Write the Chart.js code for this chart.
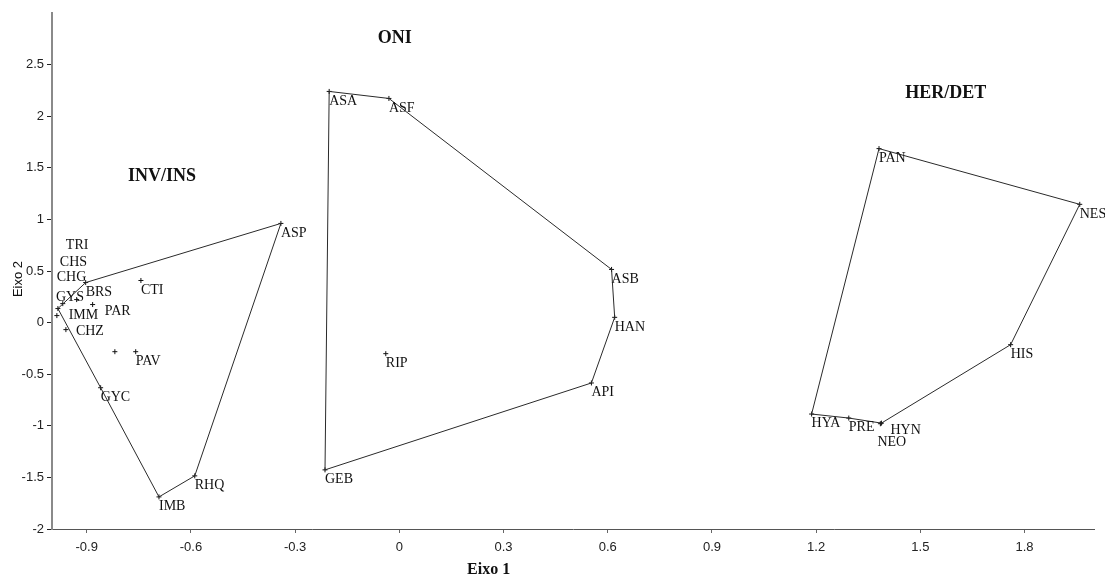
<!DOCTYPE html>
<html>
<head>
<meta charset="utf-8">
<script src="https://cdn.jsdelivr.net/npm/chart.js@4/dist/chart.umd.min.js"></script>
<style>
  html, body { margin: 0; padding: 0; background: #fff; }
  canvas { display: block; }
</style>
</head>
<body>
<canvas id="ord" width="1105" height="577"></canvas>
<script>
// Tick positions on both ordination axes
const xTicks = [-0.9, -0.6, -0.3, 0, 0.3, 0.6, 0.9, 1.2, 1.5, 1.8];
const yTicks = [-2, -1.5, -1, -0.5, 0, 0.5, 1, 1.5, 2, 2.5];

// Invertivores / insectivores
const invCodes = ['GYS', 'BRS', 'IMM', 'PAR', 'CHZ', 'TRI', 'PAV', 'CTI', 'GYC', 'IMB', 'RHQ', 'ASP', 'CHS', 'CHG'];
const invAxis1 = [-0.983, -0.903, -0.929, -0.883, -0.960, -0.819, -0.759, -0.744, -0.860, -0.692, -0.589, -0.341, -0.986, -0.969];
const invAxis2 = [0.136, 0.388, 0.223, 0.175, -0.068, -0.282, -0.282, 0.408, -0.631, -1.689, -1.485, 0.961, 0.068, 0.184];
const invHull = ['GYS', 'GYC', 'IMB', 'RHQ', 'ASP', 'BRS', 'GYS'];

// Omnivores
const oniCodes = ['ASA', 'ASF', 'ASB', 'HAN', 'API', 'GEB', 'RIP'];
const oniAxis1 = [-0.202, -0.030, 0.611, 0.620, 0.553, -0.214, -0.039];
const oniAxis2 = [2.240, 2.172, 0.515, 0.051, -0.585, -1.427, -0.301];
const oniHull = ['ASA', 'ASF', 'ASB', 'HAN', 'API', 'GEB', 'ASA'];

// Herbivores / detritivores
const herCodes = ['PAN', 'NES', 'HIS', 'HYN', 'NEO', 'PRE', 'HYA'];
const herAxis1 = [1.381, 1.959, 1.760, 1.388, 1.385, 1.294, 1.187];
const herAxis2 = [1.686, 1.146, -0.214, -0.974, -0.980, -0.925, -0.886];
const herHull = ['PAN', 'NES', 'HIS', 'HYN', 'PRE', 'HYA', 'PAN'];

// Group captions
const groupNames = ['INV/INS', 'ONI', 'HER/DET'];

// Layout of text elements (pixels / data anchors), kept apart from the data
const captionAnchors = { 'INV/INS': [-0.683, 1.415], 'ONI': [-0.013, 2.750], 'HER/DET': [1.573, 2.219] };
const labelNudge = {
  TRI: [-49, -116], CHS: [3, -63], CHG: [-6, -36], GYS: [-2, -21],
  IMM: [-8, 6], PAR: [12, -3], CHZ: [10, -8],
  HYN: [9, -2], NEO: [-3, 9]
};

function pts(codes, a1, a2) {
  return codes.map((c, i) => ({ x: a1[i], y: a2[i], code: c }));
}
function hull(order, codes, a1, a2) {
  return order.map(c => { const i = codes.indexOf(c); return { x: a1[i], y: a2[i] }; });
}

const groups = [
  [invCodes, invAxis1, invAxis2, invHull],
  [oniCodes, oniAxis1, oniAxis2, oniHull],
  [herCodes, herAxis1, herAxis2, herHull]
];

const datasets = [];
groups.forEach(([codes, a1, a2, order]) => {
  datasets.push({
    type: 'scatter',
    data: hull(order, codes, a1, a2),
    showLine: true,
    borderColor: '#2a2a2a',
    borderWidth: 1,
    pointRadius: 0,
    tension: 0,
    fill: false
  });
  datasets.push({
    type: 'scatter',
    data: pts(codes, a1, a2),
    pointStyle: 'cross',
    pointRadius: 2.5,
    borderColor: '#111',
    borderWidth: 1,
    isSpecies: true
  });
});

const textPlugin = {
  id: 'ordText',
  afterDatasetsDraw(chart) {
    const ctx = chart.ctx;
    const xs = chart.scales.x, ys = chart.scales.y;
    ctx.save();
    // species codes next to each point
    ctx.font = '14px "Liberation Serif", "Times New Roman", serif';
    ctx.fillStyle = '#111';
    ctx.textAlign = 'left';
    ctx.textBaseline = 'middle';
    chart.data.datasets.forEach((ds, di) => {
      if (!ds.isSpecies) return;
      const meta = chart.getDatasetMeta(di);
      meta.data.forEach((el, i) => {
        const code = ds.data[i].code;
        const n = labelNudge[code] || [0, 0];
        ctx.fillText(code, el.x + n[0], el.y + 9.5 + n[1]);
      });
    });
    // group captions
    ctx.font = 'bold 18px "Liberation Serif", "Times New Roman", serif';
    ctx.textAlign = 'center';
    groupNames.forEach(g => {
      const a = captionAnchors[g];
      ctx.fillText(g, xs.getPixelForValue(a[0]), ys.getPixelForValue(a[1]));
    });
    // axis titles
    ctx.font = 'bold 16px "Liberation Serif", "Times New Roman", serif';
    ctx.fillText('Eixo 1', xs.left + (xs.right - xs.left) * 0.419, 570);
    ctx.font = '13px "Liberation Sans", Arial, sans-serif';
    ctx.translate(18, 279);
    ctx.rotate(-Math.PI / 2);
    ctx.fillText('Eixo 2', 0, 0);
    ctx.restore();
  }
};

const tickFont = { family: '"Liberation Sans", Arial, sans-serif', size: 13 };

new Chart(document.getElementById('ord'), {
  type: 'scatter',
  data: { datasets },
  options: {
    responsive: false,
    animation: false,
    layout: { padding: { top: 13, right: 11, left: 0, bottom: 0 } },
    plugins: { legend: { display: false }, tooltip: { enabled: false } },
    scales: {
      x: {
        type: 'linear',
        min: -1,
        max: 2,
        afterBuildTicks(s) { s.ticks = xTicks.map(v => ({ value: v })); },
        afterFit(s) { s.height = 48; },
        ticks: { font: tickFont, color: '#222', padding: 7, maxRotation: 0, autoSkip: false,
                 callback: v => String(v) },
        grid: { drawOnChartArea: false, drawTicks: true, tickLength: 4, color: '#666' },
        border: { display: true, color: '#555', width: 1 }
      },
      y: {
        type: 'linear',
        min: -2,
        max: 3,
        afterBuildTicks(s) { s.ticks = yTicks.map(v => ({ value: v })); },
        afterFit(s) { s.width = 52; },
        ticks: { font: tickFont, color: '#222', padding: 3, autoSkip: false,
                 callback: v => String(v) },
        grid: { drawOnChartArea: false, drawTicks: true, tickLength: 5, color: '#222' },
        border: { display: true, color: '#8a8a8a', width: 2 }
      }
    }
  },
  plugins: [textPlugin]
});
</script>
</body>
</html>
